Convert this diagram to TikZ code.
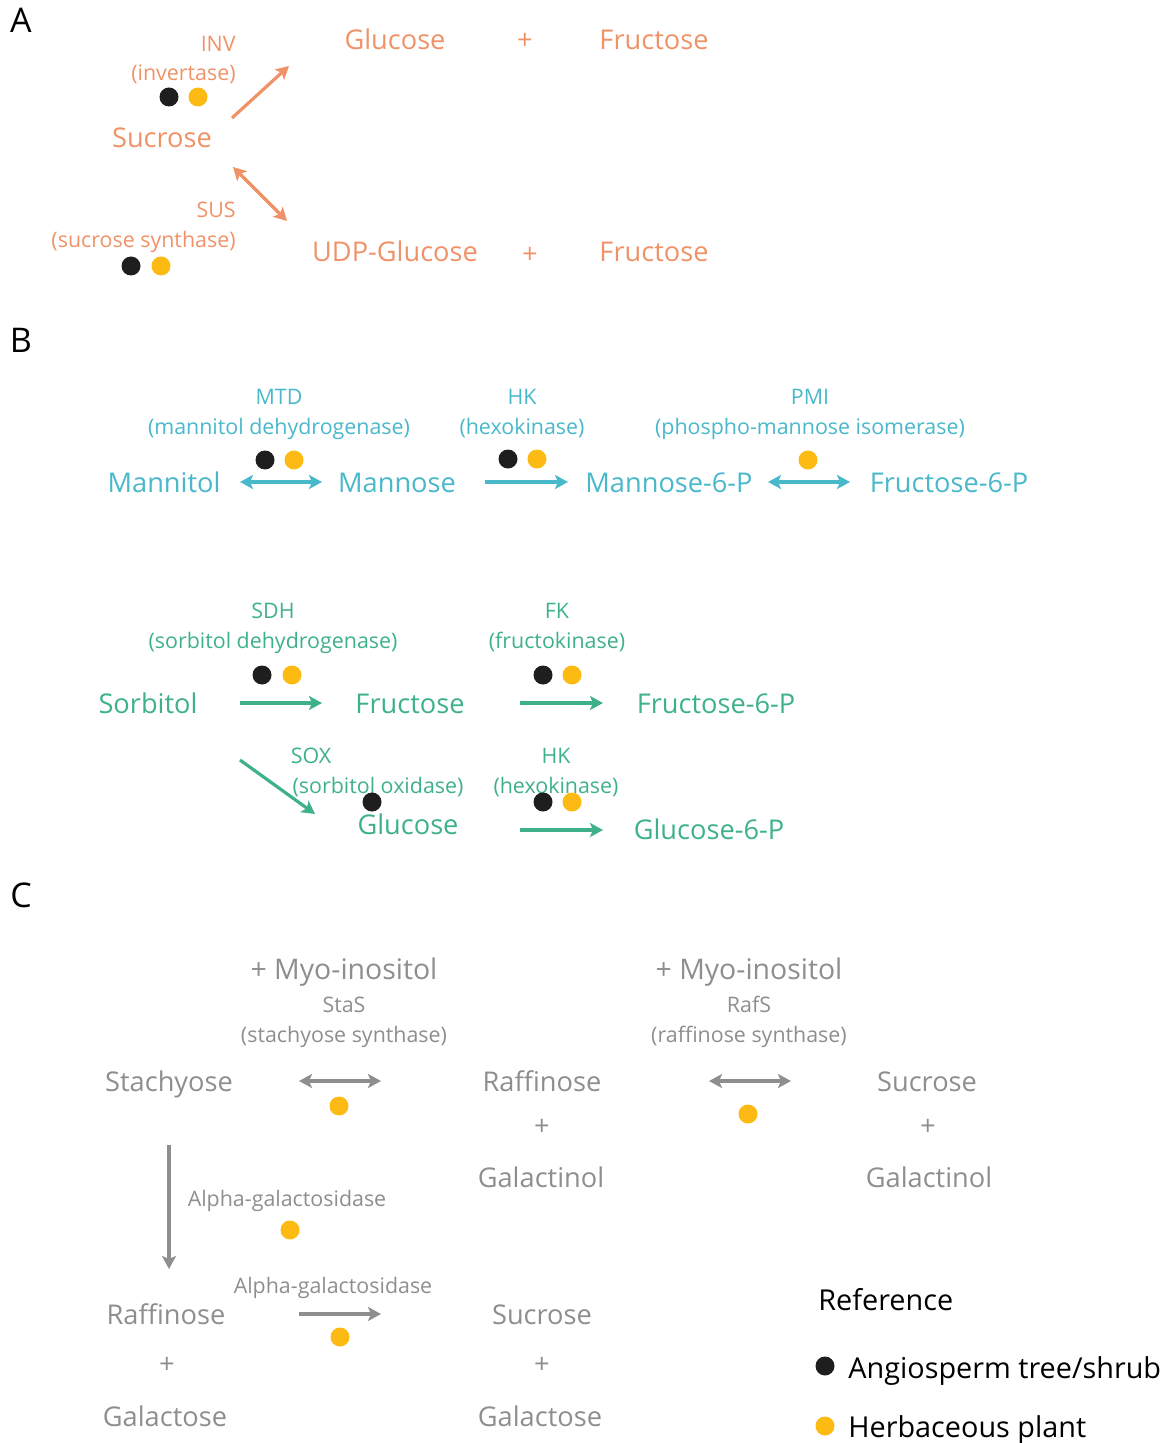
\documentclass[tikz,border=0pt]{standalone}
\usepackage{fontspec}
\setmainfont{Open Sans}
\usetikzlibrary{arrows.meta,positioning}
\definecolor{suc}{RGB}{240,146,104}
\definecolor{man}{RGB}{72,184,202}
\definecolor{sor}{RGB}{62,177,140}
\definecolor{raf}{RGB}{142,142,142}
\definecolor{angio}{RGB}{30,30,30}
\definecolor{herb}{RGB}{252,186,18}
\tikzset{
  sugar/.style={font=\fontsize{13.6}{16}\selectfont, inner sep=0pt, text height=0.9em, text depth=0pt},
  myo/.style={font=\fontsize{14.2}{17}\selectfont, inner sep=0pt, text height=0.9em, text depth=0pt},
  enzyme/.style={font=\fontsize{10.7}{13}\selectfont, inner sep=0pt, text height=0.8em, text depth=0pt},
  panel/.style={font=\fontsize{17}{20}\selectfont, inner sep=0pt, text height=0.95em, text depth=0pt},
  legend/.style={font=\fontsize{14.4}{17}\selectfont, inner sep=0pt, text height=0.9em, text depth=0pt, anchor=west},
  angiodot/.style={circle, fill=angio, inner sep=0pt, minimum size=9.5pt},
  herbdot/.style={circle, fill=herb, inner sep=0pt, minimum size=9.5pt},
  react/.style={line width=1.6pt, -{Stealth[length=6.5pt,width=7pt,inset=1.5pt]}},
  revreact/.style={line width=1.6pt, {Stealth[length=6.5pt,width=7pt,inset=1.5pt]}-{Stealth[length=6.5pt,width=7pt,inset=1.5pt]}},
}
\begin{document}
\begin{tikzpicture}[x=0.5pt,y=-0.5pt]
\useasboundingbox (0,0) rectangle (1166,1443);
\node[panel] (pA) at (21,23) {A};
\node[panel] (pB) at (21,343) {B};
\node[panel] (pC) at (21,898) {C};
\begin{scope}[suc]
\node[enzyme, anchor=east] (inv) at (236,44) {INV};
\node[enzyme, anchor=east] (invname) at (236,73) {(invertase)};
\node[angiodot] (invB) at (169,97) {};
\node[herbdot] (invH) at (198,97) {};
\node[sugar] (sucA) at (162,139) {Sucrose};
\node[sugar] (glcA) at (395,41) {Glucose};
\node[sugar] (plusA1) at (525,41) {+};
\node[sugar] (fruA1) at (654,41) {Fructose};
\coordinate (invS) at (232,118);
\coordinate (invE) at (289,66);
\draw[react] (invS) -- (invE);
\coordinate (susS) at (233,167);
\coordinate (susE) at (287,221);
\draw[revreact] (susS) -- (susE);
\node[enzyme, anchor=east] (sus) at (236,210) {SUS};
\node[enzyme, anchor=east] (susname) at (236,240) {(sucrose synthase)};
\node[angiodot] (susB) at (131,266) {};
\node[herbdot] (susH) at (161,266) {};
\node[sugar] (udpg) at (395,253) {UDP-Glucose};
\node[sugar] (plusA2) at (530,255) {+};
\node[sugar] (fruA2) at (654,253) {Fructose};
\end{scope}
\begin{scope}[man]
\node[enzyme] (mtd) at (279,397) {MTD};
\node[enzyme] (mtdname) at (279,427) {(mannitol dehydrogenase)};
\node[enzyme] (hkA) at (522,397) {HK};
\node[enzyme] (hkAname) at (522,427) {(hexokinase)};
\node[enzyme] (pmi) at (810,397) {PMI};
\node[enzyme] (pminame) at (810,427) {(phospho-mannose isomerase)};
\node[angiodot] (mtdB) at (265,460) {};
\node[herbdot] (mtdH) at (294,460) {};
\node[angiodot] (hkAB) at (508,459) {};
\node[herbdot] (hkAH) at (537,459) {};
\node[herbdot] (pmiH) at (808,460) {};
\node[sugar] (mtl) at (164,483) {Mannitol};
\node[sugar] (mann) at (397,483) {Mannose};
\node[sugar] (m6p) at (669,483) {Mannose-6-P};
\node[sugar] (f6pA) at (949,483) {Fructose-6-P};
\coordinate (mtdS) at (240,482);
\coordinate (mtdE) at (322,482);
\coordinate (hkAS) at (485,482);
\coordinate (hkAE) at (568,482);
\coordinate (pmiS) at (768,482);
\coordinate (pmiE) at (850,482);
\draw[revreact] (mtdS) -- (mtdE);
\draw[react] (hkAS) -- (hkAE);
\draw[revreact] (pmiS) -- (pmiE);
\end{scope}
\begin{scope}[sor]
\node[enzyme] (sdh) at (273,610) {SDH};
\node[enzyme] (sdhname) at (273,640) {(sorbitol dehydrogenase)};
\node[enzyme] (fk) at (557,610) {FK};
\node[enzyme] (fkname) at (557,640) {(fructokinase)};
\node[angiodot] (sdhB) at (262,675) {};
\node[herbdot] (sdhH) at (292,675) {};
\node[angiodot] (fkB) at (543,675) {};
\node[herbdot] (fkH) at (572,675) {};
\node[sugar] (sor) at (148,704) {Sorbitol};
\node[sugar] (fruB) at (410,704) {Fructose};
\node[sugar] (f6pB) at (716,704) {Fructose-6-P};
\coordinate (sdhS) at (240,703);
\coordinate (sdhE) at (322,703);
\coordinate (fkS) at (520,703);
\coordinate (fkE) at (603,703);
\draw[react] (sdhS) -- (sdhE);
\draw[react] (fkS) -- (fkE);
\coordinate (soxS) at (240,760);
\coordinate (soxE) at (315,814);
\draw[react] (soxS) -- (soxE);
\node[enzyme] (sox) at (311,755) {SOX};
\node[enzyme] (soxname) at (378,785) {(sorbitol oxidase)};
\node[enzyme] (hkB) at (556,755) {HK};
\node[enzyme] (hkBname) at (556,785) {(hexokinase)};
\node[angiodot] (soxB) at (372,802) {};
\node[angiodot] (hkBB) at (543,802) {};
\node[herbdot] (hkBH) at (572,802) {};
\node[sugar] (glcB) at (408,825) {Glucose};
\node[sugar] (g6p) at (709,830) {Glucose-6-P};
\coordinate (hkBS) at (520,830);
\coordinate (hkBE) at (603,830);
\draw[react] (hkBS) -- (hkBE);
\end{scope}
\begin{scope}[raf]
\node[myo] (myoA) at (344,970) {+ Myo-inositol};
\node[enzyme] (stas) at (344,1004) {StaS};
\node[enzyme] (stasname) at (344,1034) {(stachyose synthase)};
\node[myo] (myoB) at (749,970) {+ Myo-inositol};
\node[enzyme] (rafs) at (749,1004) {RafS};
\node[enzyme] (rafsname) at (749,1034) {(raffinose synthase)};
\node[sugar] (sta) at (169,1082) {Stachyose};
\node[sugar] (rafA) at (542,1082) {Raffinose};
\node[sugar] (plusC1) at (542,1126) {+};
\node[sugar] (golA) at (541,1178) {Galactinol};
\node[sugar] (sucC) at (927,1082) {Sucrose};
\node[sugar] (plusC2) at (928,1126) {+};
\node[sugar] (golB) at (929,1178) {Galactinol};
\coordinate (stasS) at (299,1081);
\coordinate (stasE) at (381,1081);
\coordinate (rafsS) at (709,1081);
\coordinate (rafsE) at (791,1081);
\draw[revreact] (stasS) -- (stasE);
\draw[revreact] (rafsS) -- (rafsE);
\node[herbdot] (stasH) at (339,1106) {};
\node[herbdot] (rafsH) at (748,1114) {};
\coordinate (galAS) at (169,1145);
\coordinate (galAE) at (169,1269);
\draw[react] (galAS) -- (galAE);
\node[enzyme] (galA) at (287,1198) {Alpha-galactosidase};
\node[herbdot] (galAH) at (290,1230) {};
\node[enzyme] (galB) at (333,1285) {Alpha-galactosidase};
\coordinate (galBS) at (299,1314);
\coordinate (galBE) at (381,1314);
\draw[react] (galBS) -- (galBE);
\node[herbdot] (galBH) at (340,1337) {};
\node[sugar] (rafB) at (166,1315) {Raffinose};
\node[sugar] (plusC3) at (167,1364) {+};
\node[sugar] (galcA) at (165,1417) {Galactose};
\node[sugar] (sucD) at (542,1315) {Sucrose};
\node[sugar] (plusC4) at (542,1364) {+};
\node[sugar] (galcB) at (540,1417) {Galactose};
\end{scope}
\node[legend] (ref) at (818,1301) {Reference};
\node[angiodot] (refB) at (825,1366) {};
\node[legend] (refBtext) at (848,1369) {Angiosperm tree/shrub};
\node[herbdot] (refH) at (825,1426) {};
\node[legend] (refHtext) at (848,1428) {Herbaceous plant};
\end{tikzpicture}
\end{document}
